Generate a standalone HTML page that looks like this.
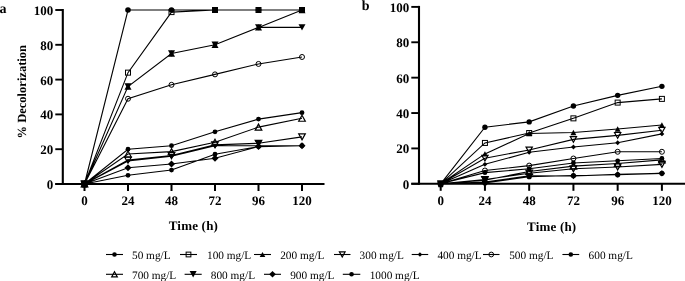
<!DOCTYPE html>
<html><head><meta charset="utf-8"><style>
html,body{margin:0;padding:0;background:#fff;width:685px;height:281px;overflow:hidden}
svg{display:block;will-change:transform}
text{font-family:"Liberation Serif",serif;fill:#000;text-rendering:geometricPrecision}
.tk{font-weight:bold;font-size:13px}
.tt{font-weight:bold;font-size:13px;letter-spacing:0.2px}
.yl{font-weight:bold;font-size:12.5px}
.pl{font-weight:bold;font-size:14px}
.lg{font-size:11.3px}
</style></head><body>
<svg width="685" height="281" viewBox="0 0 685 281">
<rect width="685" height="281" fill="#fff"/>
<path d="M84.50,184.00 L128.00,10.00 L171.50,10.00 L215.00,10.00 L258.50,10.00 L302.00,10.00 M84.50,184.00 L128.00,72.64 L171.50,12.09 L215.00,10.00 L258.50,10.00 L302.00,10.00 M84.50,184.00 L128.00,86.56 L171.50,53.50 L215.00,44.80 L258.50,27.40 L302.00,10.00 M84.50,184.00 L128.00,159.99 L171.50,155.64 L215.00,144.85 L258.50,143.28 L302.00,136.85 M84.50,184.00 L128.00,161.03 L171.50,156.16 L215.00,145.72 L258.50,145.72 L302.00,145.72 M84.50,184.00 L128.00,98.74 L171.50,84.82 L215.00,74.38 L258.50,63.94 L302.00,56.98 M84.50,184.00 L128.00,149.20 L171.50,145.72 L215.00,131.80 L258.50,119.10 L302.00,112.66 M84.50,184.00 L128.00,154.07 L171.50,151.64 L215.00,142.24 L258.50,127.10 L302.00,118.23 M84.50,184.00 L128.00,86.56 L171.50,53.50 L215.00,44.80 L258.50,27.40 L302.00,27.40 M84.50,184.00 L128.00,167.82 L171.50,163.99 L215.00,158.25 L258.50,146.59 L302.00,145.72 M84.50,184.00 L128.00,175.30 L171.50,170.08 L215.00,154.25 L258.50,146.59 L302.00,145.72" fill="none" stroke="#000" stroke-width="1.1"/>
<circle cx="84.50" cy="184.00" r="2.80" fill="#000"/>
<circle cx="128.00" cy="10.00" r="2.80" fill="#000"/>
<circle cx="171.50" cy="10.00" r="2.80" fill="#000"/>
<circle cx="215.00" cy="10.00" r="2.80" fill="#000"/>
<circle cx="258.50" cy="10.00" r="2.80" fill="#000"/>
<circle cx="302.00" cy="10.00" r="2.80" fill="#000"/>
<rect x="82.00" y="181.50" width="5.00" height="5.00" fill="none" stroke="#000" stroke-width="1.0"/>
<rect x="125.50" y="70.14" width="5.00" height="5.00" fill="none" stroke="#000" stroke-width="1.0"/>
<rect x="169.00" y="9.59" width="5.00" height="5.00" fill="none" stroke="#000" stroke-width="1.0"/>
<rect x="212.50" y="7.50" width="5.00" height="5.00" fill="none" stroke="#000" stroke-width="1.0"/>
<rect x="256.00" y="7.50" width="5.00" height="5.00" fill="none" stroke="#000" stroke-width="1.0"/>
<rect x="299.50" y="7.50" width="5.00" height="5.00" fill="none" stroke="#000" stroke-width="1.0"/>
<polygon points="84.50,180.80 88.00,187.20 81.00,187.20" fill="#000"/>
<polygon points="128.00,83.36 131.50,89.76 124.50,89.76" fill="#000"/>
<polygon points="171.50,50.30 175.00,56.70 168.00,56.70" fill="#000"/>
<polygon points="215.00,41.60 218.50,48.00 211.50,48.00" fill="#000"/>
<polygon points="258.50,24.20 262.00,30.60 255.00,30.60" fill="#000"/>
<polygon points="302.00,6.80 305.50,13.20 298.50,13.20" fill="#000"/>
<polygon points="84.50,187.00 87.80,181.00 81.20,181.00" fill="none" stroke="#000" stroke-width="1.2" stroke-linejoin="miter"/>
<polygon points="128.00,162.99 131.30,156.99 124.70,156.99" fill="none" stroke="#000" stroke-width="1.2" stroke-linejoin="miter"/>
<polygon points="171.50,158.64 174.80,152.64 168.20,152.64" fill="none" stroke="#000" stroke-width="1.2" stroke-linejoin="miter"/>
<polygon points="215.00,147.85 218.30,141.85 211.70,141.85" fill="none" stroke="#000" stroke-width="1.2" stroke-linejoin="miter"/>
<polygon points="258.50,146.28 261.80,140.28 255.20,140.28" fill="none" stroke="#000" stroke-width="1.2" stroke-linejoin="miter"/>
<polygon points="302.00,139.85 305.30,133.85 298.70,133.85" fill="none" stroke="#000" stroke-width="1.2" stroke-linejoin="miter"/>
<polygon points="84.50,181.60 86.90,184.00 84.50,186.40 82.10,184.00" fill="#000"/>
<polygon points="128.00,158.63 130.40,161.03 128.00,163.43 125.60,161.03" fill="#000"/>
<polygon points="171.50,153.76 173.90,156.16 171.50,158.56 169.10,156.16" fill="#000"/>
<polygon points="215.00,143.32 217.40,145.72 215.00,148.12 212.60,145.72" fill="#000"/>
<polygon points="258.50,143.32 260.90,145.72 258.50,148.12 256.10,145.72" fill="#000"/>
<polygon points="302.00,143.32 304.40,145.72 302.00,148.12 299.60,145.72" fill="#000"/>
<circle cx="84.50" cy="184.00" r="2.50" fill="none" stroke="#000" stroke-width="1.0"/>
<circle cx="128.00" cy="98.74" r="2.50" fill="none" stroke="#000" stroke-width="1.0"/>
<circle cx="171.50" cy="84.82" r="2.50" fill="none" stroke="#000" stroke-width="1.0"/>
<circle cx="215.00" cy="74.38" r="2.50" fill="none" stroke="#000" stroke-width="1.0"/>
<circle cx="258.50" cy="63.94" r="2.50" fill="none" stroke="#000" stroke-width="1.0"/>
<circle cx="302.00" cy="56.98" r="2.50" fill="none" stroke="#000" stroke-width="1.0"/>
<circle cx="84.50" cy="184.00" r="2.40" fill="#000"/>
<circle cx="128.00" cy="149.20" r="2.40" fill="#000"/>
<circle cx="171.50" cy="145.72" r="2.40" fill="#000"/>
<circle cx="215.00" cy="131.80" r="2.40" fill="#000"/>
<circle cx="258.50" cy="119.10" r="2.40" fill="#000"/>
<circle cx="302.00" cy="112.66" r="2.40" fill="#000"/>
<polygon points="84.50,181.00 87.80,187.00 81.20,187.00" fill="none" stroke="#000" stroke-width="1.2" stroke-linejoin="miter"/>
<polygon points="128.00,151.07 131.30,157.07 124.70,157.07" fill="none" stroke="#000" stroke-width="1.2" stroke-linejoin="miter"/>
<polygon points="171.50,148.64 174.80,154.64 168.20,154.64" fill="none" stroke="#000" stroke-width="1.2" stroke-linejoin="miter"/>
<polygon points="215.00,139.24 218.30,145.24 211.70,145.24" fill="none" stroke="#000" stroke-width="1.2" stroke-linejoin="miter"/>
<polygon points="258.50,124.10 261.80,130.10 255.20,130.10" fill="none" stroke="#000" stroke-width="1.2" stroke-linejoin="miter"/>
<polygon points="302.00,115.23 305.30,121.23 298.70,121.23" fill="none" stroke="#000" stroke-width="1.2" stroke-linejoin="miter"/>
<polygon points="84.50,187.20 88.00,180.80 81.00,180.80" fill="#000"/>
<polygon points="128.00,89.76 131.50,83.36 124.50,83.36" fill="#000"/>
<polygon points="171.50,56.70 175.00,50.30 168.00,50.30" fill="#000"/>
<polygon points="215.00,48.00 218.50,41.60 211.50,41.60" fill="#000"/>
<polygon points="258.50,30.60 262.00,24.20 255.00,24.20" fill="#000"/>
<polygon points="302.00,30.60 305.50,24.20 298.50,24.20" fill="#000"/>
<polygon points="84.50,180.50 88.00,184.00 84.50,187.50 81.00,184.00" fill="#000"/>
<polygon points="128.00,164.32 131.50,167.82 128.00,171.32 124.50,167.82" fill="#000"/>
<polygon points="171.50,160.49 175.00,163.99 171.50,167.49 168.00,163.99" fill="#000"/>
<polygon points="215.00,154.75 218.50,158.25 215.00,161.75 211.50,158.25" fill="#000"/>
<polygon points="258.50,143.09 262.00,146.59 258.50,150.09 255.00,146.59" fill="#000"/>
<polygon points="302.00,142.22 305.50,145.72 302.00,149.22 298.50,145.72" fill="#000"/>
<circle cx="84.50" cy="184.00" r="2.40" fill="#000"/>
<circle cx="128.00" cy="175.30" r="2.40" fill="#000"/>
<circle cx="171.50" cy="170.08" r="2.40" fill="#000"/>
<circle cx="215.00" cy="154.25" r="2.40" fill="#000"/>
<circle cx="258.50" cy="146.59" r="2.40" fill="#000"/>
<circle cx="302.00" cy="145.72" r="2.40" fill="#000"/>
<polygon points="80.90,180.40 88.00,180.40 87.50,185.00 86.80,187.40 82.20,187.40 81.50,185.00" fill="#000"/>
<line x1="62.80" y1="9.00" x2="62.80" y2="185.00" stroke="#000" stroke-width="2.1"/>
<line x1="55.30" y1="184.00" x2="324.50" y2="184.00" stroke="#000" stroke-width="2.1"/>
<line x1="55.30" y1="184.00" x2="62.80" y2="184.00" stroke="#000" stroke-width="1.9"/>
<text x="53.30" y="189.00" text-anchor="end" class="tk">0</text>
<line x1="55.30" y1="149.20" x2="62.80" y2="149.20" stroke="#000" stroke-width="1.9"/>
<text x="53.30" y="154.20" text-anchor="end" class="tk">20</text>
<line x1="55.30" y1="114.40" x2="62.80" y2="114.40" stroke="#000" stroke-width="1.9"/>
<text x="53.30" y="119.40" text-anchor="end" class="tk">40</text>
<line x1="55.30" y1="79.60" x2="62.80" y2="79.60" stroke="#000" stroke-width="1.9"/>
<text x="53.30" y="84.60" text-anchor="end" class="tk">60</text>
<line x1="55.30" y1="44.80" x2="62.80" y2="44.80" stroke="#000" stroke-width="1.9"/>
<text x="53.30" y="49.80" text-anchor="end" class="tk">80</text>
<line x1="55.30" y1="10.00" x2="62.80" y2="10.00" stroke="#000" stroke-width="1.9"/>
<text x="53.30" y="15.00" text-anchor="end" class="tk">100</text>
<line x1="84.50" y1="184.00" x2="84.50" y2="191.00" stroke="#000" stroke-width="2"/>
<text x="84.50" y="205.00" text-anchor="middle" class="tk">0</text>
<line x1="128.00" y1="184.00" x2="128.00" y2="191.00" stroke="#000" stroke-width="2"/>
<text x="128.00" y="205.00" text-anchor="middle" class="tk">24</text>
<line x1="171.50" y1="184.00" x2="171.50" y2="191.00" stroke="#000" stroke-width="2"/>
<text x="171.50" y="205.00" text-anchor="middle" class="tk">48</text>
<line x1="215.00" y1="184.00" x2="215.00" y2="191.00" stroke="#000" stroke-width="2"/>
<text x="215.00" y="205.00" text-anchor="middle" class="tk">72</text>
<line x1="258.50" y1="184.00" x2="258.50" y2="191.00" stroke="#000" stroke-width="2"/>
<text x="258.50" y="205.00" text-anchor="middle" class="tk">96</text>
<line x1="302.00" y1="184.00" x2="302.00" y2="191.00" stroke="#000" stroke-width="2"/>
<text x="302.00" y="205.00" text-anchor="middle" class="tk">120</text>
<path d="M440.70,183.80 L484.94,127.19 L529.18,121.89 L573.42,105.96 L617.66,95.35 L661.90,86.33 M440.70,183.80 L484.94,142.94 L529.18,133.03 L573.42,118.35 L617.66,102.60 L661.90,98.89 M440.70,183.80 L484.94,153.90 L529.18,133.56 L573.42,132.50 L617.66,128.96 L661.90,125.07 M440.70,183.80 L484.94,158.15 L529.18,150.01 L573.42,139.40 L617.66,135.33 L661.90,130.20 M440.70,183.80 L484.94,164.34 L529.18,152.31 L573.42,147.00 L617.66,142.76 L661.90,133.91 M440.70,183.80 L484.94,170.53 L529.18,165.58 L573.42,158.50 L617.66,151.78 L661.90,151.78 M440.70,183.80 L484.94,172.66 L529.18,168.76 L573.42,162.93 L617.66,160.80 L661.90,158.50 M440.70,183.80 L484.94,180.26 L529.18,171.42 L573.42,166.11 L617.66,163.46 L661.90,159.92 M440.70,183.80 L484.94,179.55 L529.18,173.19 L573.42,168.76 L617.66,166.99 L661.90,164.34 M440.70,183.80 L484.94,182.03 L529.18,175.84 L573.42,176.02 L617.66,174.42 L661.90,173.36 M440.70,183.80 L484.94,182.92 L529.18,176.72 L573.42,175.49 L617.66,174.78 L661.90,173.36" fill="none" stroke="#000" stroke-width="1.1"/>
<circle cx="484.94" cy="127.19" r="2.70" fill="#000"/>
<circle cx="529.18" cy="121.89" r="2.70" fill="#000"/>
<circle cx="573.42" cy="105.96" r="2.70" fill="#000"/>
<circle cx="617.66" cy="95.35" r="2.70" fill="#000"/>
<circle cx="661.90" cy="86.33" r="2.70" fill="#000"/>
<rect x="482.44" y="140.44" width="5.00" height="5.00" fill="none" stroke="#000" stroke-width="1.0"/>
<rect x="526.68" y="130.53" width="5.00" height="5.00" fill="none" stroke="#000" stroke-width="1.0"/>
<rect x="570.92" y="115.85" width="5.00" height="5.00" fill="none" stroke="#000" stroke-width="1.0"/>
<rect x="615.16" y="100.10" width="5.00" height="5.00" fill="none" stroke="#000" stroke-width="1.0"/>
<rect x="659.40" y="96.39" width="5.00" height="5.00" fill="none" stroke="#000" stroke-width="1.0"/>
<polygon points="484.94,151.18 487.92,156.62 481.96,156.62" fill="#000"/>
<polygon points="529.18,130.84 532.15,136.28 526.20,136.28" fill="#000"/>
<polygon points="573.42,129.78 576.39,135.22 570.44,135.22" fill="#000"/>
<polygon points="617.66,126.24 620.63,131.68 614.68,131.68" fill="#000"/>
<polygon points="661.90,122.35 664.88,127.79 658.92,127.79" fill="#000"/>
<polygon points="484.94,161.00 488.07,155.30 481.81,155.30" fill="none" stroke="#000" stroke-width="1.2" stroke-linejoin="miter"/>
<polygon points="529.18,152.86 532.31,147.16 526.04,147.16" fill="none" stroke="#000" stroke-width="1.2" stroke-linejoin="miter"/>
<polygon points="573.42,142.25 576.55,136.55 570.28,136.55" fill="none" stroke="#000" stroke-width="1.2" stroke-linejoin="miter"/>
<polygon points="617.66,138.18 620.79,132.48 614.52,132.48" fill="none" stroke="#000" stroke-width="1.2" stroke-linejoin="miter"/>
<polygon points="661.90,133.05 665.03,127.35 658.76,127.35" fill="none" stroke="#000" stroke-width="1.2" stroke-linejoin="miter"/>
<polygon points="484.94,161.94 487.34,164.34 484.94,166.74 482.54,164.34" fill="#000"/>
<polygon points="529.18,149.91 531.58,152.31 529.18,154.71 526.78,152.31" fill="#000"/>
<polygon points="573.42,144.60 575.82,147.00 573.42,149.40 571.02,147.00" fill="#000"/>
<polygon points="617.66,140.36 620.06,142.76 617.66,145.16 615.26,142.76" fill="#000"/>
<polygon points="661.90,131.51 664.30,133.91 661.90,136.31 659.50,133.91" fill="#000"/>
<circle cx="484.94" cy="170.53" r="2.50" fill="none" stroke="#000" stroke-width="1.0"/>
<circle cx="529.18" cy="165.58" r="2.50" fill="none" stroke="#000" stroke-width="1.0"/>
<circle cx="573.42" cy="158.50" r="2.50" fill="none" stroke="#000" stroke-width="1.0"/>
<circle cx="617.66" cy="151.78" r="2.50" fill="none" stroke="#000" stroke-width="1.0"/>
<circle cx="661.90" cy="151.78" r="2.50" fill="none" stroke="#000" stroke-width="1.0"/>
<circle cx="484.94" cy="172.66" r="2.40" fill="#000"/>
<circle cx="529.18" cy="168.76" r="2.40" fill="#000"/>
<circle cx="573.42" cy="162.93" r="2.40" fill="#000"/>
<circle cx="617.66" cy="160.80" r="2.40" fill="#000"/>
<circle cx="661.90" cy="158.50" r="2.40" fill="#000"/>
<polygon points="484.94,177.26 488.24,183.26 481.64,183.26" fill="none" stroke="#000" stroke-width="1.2" stroke-linejoin="miter"/>
<polygon points="529.18,168.42 532.48,174.42 525.88,174.42" fill="none" stroke="#000" stroke-width="1.2" stroke-linejoin="miter"/>
<polygon points="573.42,163.11 576.72,169.11 570.12,169.11" fill="none" stroke="#000" stroke-width="1.2" stroke-linejoin="miter"/>
<polygon points="617.66,160.46 620.96,166.46 614.36,166.46" fill="none" stroke="#000" stroke-width="1.2" stroke-linejoin="miter"/>
<polygon points="661.90,156.92 665.20,162.92 658.60,162.92" fill="none" stroke="#000" stroke-width="1.2" stroke-linejoin="miter"/>
<polygon points="484.94,182.55 488.24,176.55 481.64,176.55" fill="none" stroke="#000" stroke-width="1.2" stroke-linejoin="miter"/>
<polygon points="529.18,176.19 532.48,170.19 525.88,170.19" fill="none" stroke="#000" stroke-width="1.2" stroke-linejoin="miter"/>
<polygon points="573.42,171.76 576.72,165.76 570.12,165.76" fill="none" stroke="#000" stroke-width="1.2" stroke-linejoin="miter"/>
<polygon points="617.66,169.99 620.96,163.99 614.36,163.99" fill="none" stroke="#000" stroke-width="1.2" stroke-linejoin="miter"/>
<polygon points="661.90,167.34 665.20,161.34 658.60,161.34" fill="none" stroke="#000" stroke-width="1.2" stroke-linejoin="miter"/>
<polygon points="484.94,178.88 488.09,182.03 484.94,185.18 481.79,182.03" fill="#000"/>
<polygon points="529.18,172.69 532.33,175.84 529.18,178.99 526.03,175.84" fill="#000"/>
<polygon points="573.42,172.87 576.57,176.02 573.42,179.17 570.27,176.02" fill="#000"/>
<polygon points="617.66,171.27 620.81,174.42 617.66,177.57 614.51,174.42" fill="#000"/>
<polygon points="661.90,170.21 665.05,173.36 661.90,176.51 658.75,173.36" fill="#000"/>
<circle cx="484.94" cy="182.92" r="2.60" fill="#000"/>
<circle cx="529.18" cy="176.72" r="2.60" fill="#000"/>
<circle cx="573.42" cy="175.49" r="2.60" fill="#000"/>
<circle cx="617.66" cy="174.78" r="2.60" fill="#000"/>
<circle cx="661.90" cy="173.36" r="2.60" fill="#000"/>
<polygon points="437.10,180.20 444.20,180.20 443.70,184.80 443.00,187.20 438.40,187.20 437.70,184.80" fill="#000"/>
<line x1="419.00" y1="5.90" x2="419.00" y2="184.80" stroke="#000" stroke-width="2.1"/>
<line x1="411.30" y1="183.80" x2="686.00" y2="183.80" stroke="#000" stroke-width="2.1"/>
<line x1="411.30" y1="183.80" x2="419.00" y2="183.80" stroke="#000" stroke-width="1.9"/>
<text x="409.30" y="188.80" text-anchor="end" class="tk">0</text>
<line x1="411.30" y1="148.42" x2="419.00" y2="148.42" stroke="#000" stroke-width="1.9"/>
<text x="409.30" y="153.42" text-anchor="end" class="tk">20</text>
<line x1="411.30" y1="113.04" x2="419.00" y2="113.04" stroke="#000" stroke-width="1.9"/>
<text x="409.30" y="118.04" text-anchor="end" class="tk">40</text>
<line x1="411.30" y1="77.66" x2="419.00" y2="77.66" stroke="#000" stroke-width="1.9"/>
<text x="409.30" y="82.66" text-anchor="end" class="tk">60</text>
<line x1="411.30" y1="42.28" x2="419.00" y2="42.28" stroke="#000" stroke-width="1.9"/>
<text x="409.30" y="47.28" text-anchor="end" class="tk">80</text>
<line x1="411.30" y1="6.90" x2="419.00" y2="6.90" stroke="#000" stroke-width="1.9"/>
<text x="409.30" y="11.90" text-anchor="end" class="tk">100</text>
<line x1="440.70" y1="183.80" x2="440.70" y2="190.80" stroke="#000" stroke-width="2"/>
<text x="440.70" y="205.00" text-anchor="middle" class="tk">0</text>
<line x1="484.94" y1="183.80" x2="484.94" y2="190.80" stroke="#000" stroke-width="2"/>
<text x="484.94" y="205.00" text-anchor="middle" class="tk">24</text>
<line x1="529.18" y1="183.80" x2="529.18" y2="190.80" stroke="#000" stroke-width="2"/>
<text x="529.18" y="205.00" text-anchor="middle" class="tk">48</text>
<line x1="573.42" y1="183.80" x2="573.42" y2="190.80" stroke="#000" stroke-width="2"/>
<text x="573.42" y="205.00" text-anchor="middle" class="tk">72</text>
<line x1="617.66" y1="183.80" x2="617.66" y2="190.80" stroke="#000" stroke-width="2"/>
<text x="617.66" y="205.00" text-anchor="middle" class="tk">96</text>
<line x1="661.90" y1="183.80" x2="661.90" y2="190.80" stroke="#000" stroke-width="2"/>
<text x="661.90" y="205.00" text-anchor="middle" class="tk">120</text>
<polygon points="258.50,146.48 262.00,140.08 255.00,140.08" fill="#000"/>
<polygon points="484.94,183.45 488.62,176.73 481.26,176.73" fill="#000"/>
<text x="193.4" y="230" text-anchor="middle" class="tt">Time (h)</text>
<text x="551.7" y="230.8" text-anchor="middle" class="tt">Time (h)</text>
<text transform="translate(26.4,91.7) rotate(-90)" text-anchor="middle" class="yl">% Decolorization</text>
<text x="-0.6" y="12.6" class="pl">a</text>
<text x="361.8" y="9.8" class="pl">b</text>
<line x1="106" y1="254.5" x2="123" y2="254.5" stroke="#000" stroke-width="1.1"/>
<circle cx="114.50" cy="254.50" r="2.30" fill="#000"/>
<text x="132" y="258.70" class="lg">50 mg/L</text>
<line x1="180" y1="254.5" x2="197" y2="254.5" stroke="#000" stroke-width="1.1"/>
<rect x="186.12" y="252.12" width="4.75" height="4.75" fill="none" stroke="#000" stroke-width="1.0"/>
<text x="207" y="258.70" class="lg">100 mg/L</text>
<line x1="254" y1="254.5" x2="271" y2="254.5" stroke="#000" stroke-width="1.1"/>
<polygon points="262.50,251.94 265.30,257.06 259.70,257.06" fill="#000"/>
<text x="280.2" y="258.70" class="lg">200 mg/L</text>
<line x1="334" y1="254.5" x2="350.5" y2="254.5" stroke="#000" stroke-width="1.1"/>
<polygon points="342.25,257.05 345.06,251.95 339.44,251.95" fill="none" stroke="#000" stroke-width="1.2" stroke-linejoin="miter"/>
<text x="359.6" y="258.70" class="lg">300 mg/L</text>
<line x1="411.7" y1="254.5" x2="428.2" y2="254.5" stroke="#000" stroke-width="1.1"/>
<polygon points="419.95,252.22 422.23,254.50 419.95,256.78 417.67,254.50" fill="#000"/>
<text x="437.4" y="258.70" class="lg">400 mg/L</text>
<line x1="483" y1="254.5" x2="499.5" y2="254.5" stroke="#000" stroke-width="1.1"/>
<circle cx="491.25" cy="254.50" r="2.38" fill="none" stroke="#000" stroke-width="1.0"/>
<text x="509.2" y="258.70" class="lg">500 mg/L</text>
<line x1="562.4" y1="254.5" x2="579.2" y2="254.5" stroke="#000" stroke-width="1.1"/>
<circle cx="570.80" cy="254.50" r="2.30" fill="#000"/>
<text x="588.6" y="258.70" class="lg">600 mg/L</text>
<line x1="106" y1="274.3" x2="123" y2="274.3" stroke="#000" stroke-width="1.1"/>
<polygon points="114.50,271.75 117.31,276.85 111.69,276.85" fill="none" stroke="#000" stroke-width="1.2" stroke-linejoin="miter"/>
<text x="132" y="278.50" class="lg">700 mg/L</text>
<line x1="184.6" y1="274.3" x2="201.7" y2="274.3" stroke="#000" stroke-width="1.1"/>
<polygon points="193.15,277.50 196.65,271.10 189.65,271.10" fill="#000"/>
<text x="210.8" y="278.50" class="lg">800 mg/L</text>
<line x1="264" y1="274.3" x2="281" y2="274.3" stroke="#000" stroke-width="1.1"/>
<polygon points="272.50,270.98 275.82,274.30 272.50,277.62 269.18,274.30" fill="#000"/>
<text x="290.2" y="278.50" class="lg">900 mg/L</text>
<line x1="342.8" y1="274.3" x2="360.3" y2="274.3" stroke="#000" stroke-width="1.1"/>
<circle cx="351.55" cy="274.30" r="2.30" fill="#000"/>
<text x="369.7" y="278.50" class="lg">1000 mg/L</text>
</svg>
</body></html>
